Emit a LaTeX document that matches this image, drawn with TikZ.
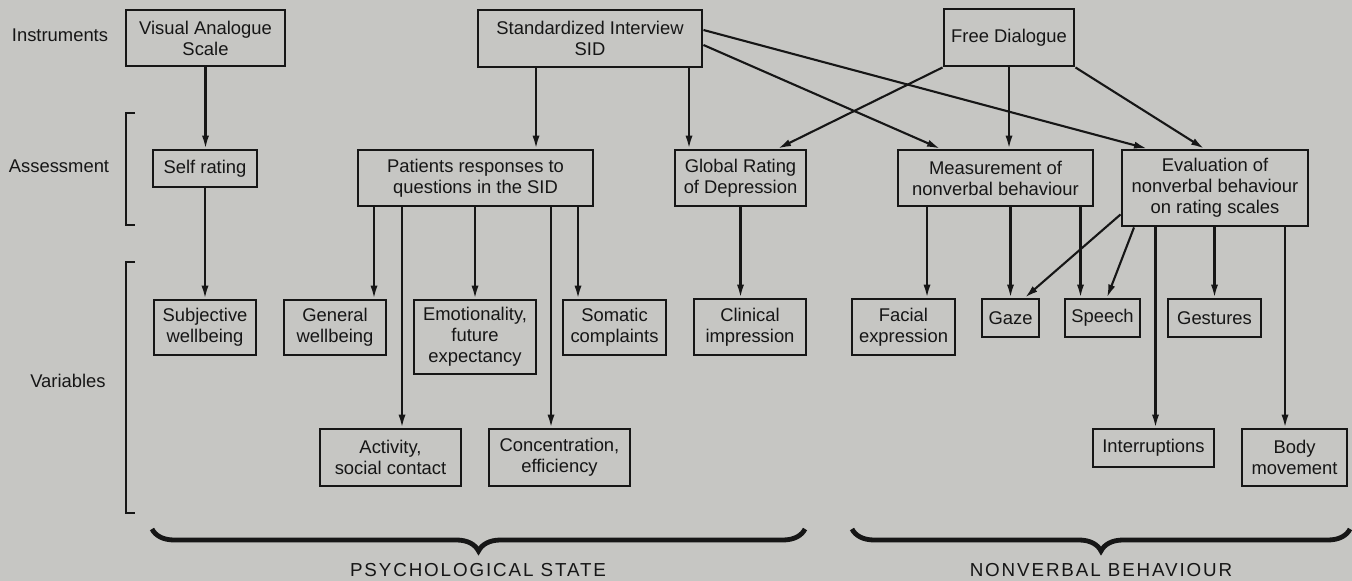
\documentclass[tikz,border=0pt]{standalone}
\usepackage{fontspec}
\setmainfont{Liberation Sans}
\newfontfamily\spacedcaps[LetterSpace=10]{Liberation Sans}
\usetikzlibrary{arrows.meta}
\usetikzlibrary{decorations.pathreplacing}
\usetikzlibrary{calc}
\definecolor{paper}{RGB}{198,198,195}
\definecolor{ink}{RGB}{22,22,22}

\begin{document}
\begin{tikzpicture}[x=.5pt,y=-.5pt,
  box/.style={draw=ink, line width=1.45pt, align=center, inner sep=0pt, text=ink, font=\fontsize{9.2}{10.5}\selectfont},
  arr/.style={draw=ink, line width=1.05pt, -{Latex[length=6.5pt,width=3.6pt]}},
  rowlab/.style={text=ink, font=\fontsize{9.2}{10.5}\selectfont},
  grouplab/.style={text=ink, font=\spacedcaps\fontsize{9.4}{10.5}\selectfont},
  bracket/.style={draw=ink, line width=1.1pt},
  curly/.style={draw=ink, line width=2.4pt, decorate, decoration={brace, mirror, amplitude=11pt}}]
\useasboundingbox (0,0) rectangle (1352,581);
\fill[paper] (0,0) rectangle (1352,581);

% row labels and brackets
\node[rowlab] (instr) at (60,35) {Instruments};
\node[rowlab] (assess) at (59,166) {Assessment};
\node[rowlab] (vars) at (68,381) {Variables};
\draw[bracket] (135,113) -- (126,113) -- (126,225) -- (135,225); % assessment
\draw[bracket] (135,262) -- (126,262) -- (126,513) -- (135,513); % variables

% instruments
\node[box, minimum width=79.5pt, minimum height=28pt] (vas) at (205.5,38) {Visual Analogue\\Scale};
\node[box, minimum width=112pt, minimum height=28.5pt] (sid) at (590,38.5) {Standardized Interview\\SID};
\node[box, minimum width=65pt, minimum height=28.5pt] (fd) at (1009,37.5) {Free Dialogue};

% assessment
\node[box, minimum width=52pt, minimum height=18.5pt] (self) at (205,168.5) {Self rating};
\node[box, minimum width=117.5pt, minimum height=28pt] (pat) at (475.5,178) {Patients responses to\\questions in the SID};
\node[box, minimum width=65.5pt, minimum height=28pt] (glob) at (740.5,178) {Global Rating\\of Depression};
\node[box, minimum width=97.5pt, minimum height=28pt] (meas) at (995.5,178) {Measurement of\\nonverbal behaviour};
\node[box, minimum width=93pt, minimum height=38pt] (eval) at (1215,188) {Evaluation of\\nonverbal behaviour\\on rating scales};

% variables
\node[box, minimum width=51pt, minimum height=27.5pt] (subj) at (205,327.5) {Subjective\\wellbeing};
\node[box, minimum width=51pt, minimum height=27.5pt] (gen) at (335,327.5) {General\\wellbeing};
\node[box, minimum width=61pt, minimum height=37pt] (emo) at (475,337) {Emotionality,\\future\\expectancy};
\node[box, minimum width=51.5pt, minimum height=27.5pt] (som) at (614.5,327.5) {Somatic\\complaints};
\node[box, minimum width=56pt, minimum height=28pt] (clin) at (750,327) {Clinical\\impression};
\node[box, minimum width=51.5pt, minimum height=28pt] (fac) at (903.5,327) {Facial\\expression};
\node[box, minimum width=28.5pt, minimum height=19pt] (gaze) at (1010.5,318) {Gaze};
\node[box, minimum width=37.5pt, minimum height=19pt] (speech) at (1102.5,318) {Speech};
\node[box, minimum width=46.5pt, minimum height=19pt] (gest) at (1214.5,318) {Gestures};
\node[box, minimum width=70.5pt, minimum height=28.5pt] (act) at (390.5,457.5) {Activity,\\social contact};
\node[box, minimum width=70.5pt, minimum height=28.5pt] (conc) at (559.5,457.5) {Concentration,\\efficiency};
\node[box, minimum width=60.5pt, minimum height=19pt] (intr) at (1153.5,448) {Interruptions};
\node[box, minimum width=52.5pt, minimum height=28.5pt] (body) at (1294.5,457.5) {Body\\movement};

% instruments to assessment
\draw[arr] (vas.south) -- (vas.south |- self.north);
\draw[arr] (sid.south -| 536,0) -- (pat.north -| 536,0);
\draw[arr] (sid.south -| 689,0) -- (glob.north -| 689,0);
\draw[arr] ($(sid.east)+(0,6.5)$) -- (meas.north -| 940,0);
\draw[arr] ($(sid.east)+(0,-8.5)$) -- (eval.north -| 1147,0);
\draw[arr] (fd.south west) -- (glob.north -| 778,0);
\draw[arr] (fd.south) -- (meas.north -| 1009,0);
\draw[arr] (fd.south east) -- (eval.north -| 1204,0);

% assessment to variables
\draw[arr] (self.south) -- (self.south |- subj.north);
\draw[arr] (pat.south -| 374,0) -- (gen.north -| 374,0);
\draw[arr] (pat.south -| 402,0) -- (act.north -| 402,0);
\draw[arr] (pat.south -| 475,0) -- (emo.north);
\draw[arr] (pat.south -| 551,0) -- (conc.north -| 551,0);
\draw[arr] (pat.south -| 578,0) -- (som.north -| 578,0);
\draw[arr] (glob.south) -- (glob.south |- clin.north);
\draw[arr] (meas.south -| 927,0) -- (fac.north -| 927,0);
\draw[arr] (meas.south -| 1010.5,0) -- (gaze.north);
\draw[arr] (meas.south -| 1080.5,0) -- (speech.north -| 1080.5,0);
\draw[arr] ($(eval.south west)+(0,-13)$) -- (gaze.north -| 1025,0);
\draw[arr] (eval.south -| 1134,0) -- (speech.north -| 1107,0);
\draw[arr] (eval.south -| 1155.5,0) -- (intr.north -| 1155.5,0);
\draw[arr] (eval.south -| 1214.5,0) -- (gest.north);
\draw[arr] (eval.south -| 1285,0) -- (body.north -| 1285,0);

% groups
\draw[curly] (152,529) -- (805,529);
\draw[curly] (852,529) -- (1350,529);
\node[grouplab] (psych) at (478,570) {PSYCHOLOGICAL STATE};
\node[grouplab] (nonverb) at (1101,570) {NONVERBAL BEHAVIOUR};
\end{tikzpicture}
\end{document}
